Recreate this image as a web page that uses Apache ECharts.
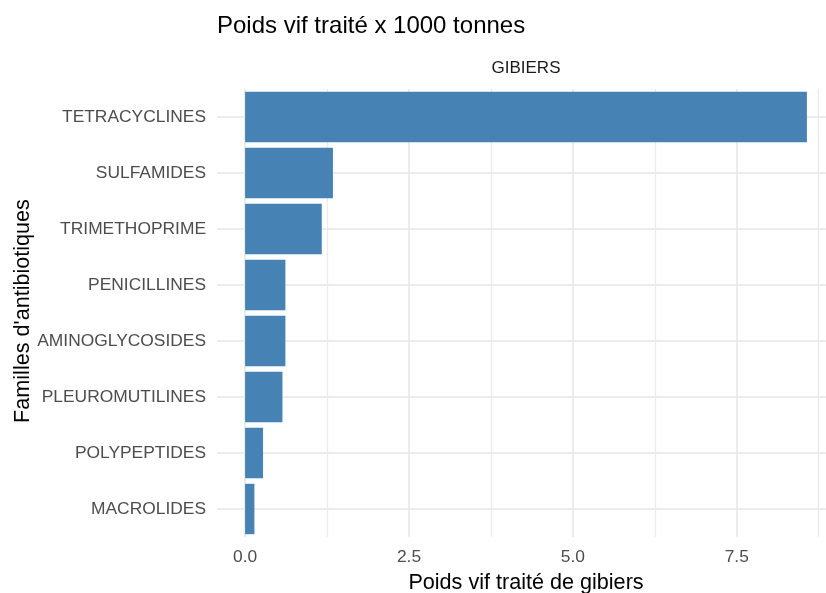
<!DOCTYPE html>
<html>
<head>
<meta charset="utf-8">
<script src="https://cdn.jsdelivr.net/npm/echarts@6/dist/echarts.min.js"></script>
<style>
  html, body { margin: 0; padding: 0; background: #fff; }
  #chart { width: 826px; height: 593px; }
</style>
</head>
<body>
<div id="chart"></div>
<script>
// familles d'antibiotiques, du haut vers le bas
var familles = ['TETRACYCLINES', 'SULFAMIDES', 'TRIMETHOPRIME', 'PENICILLINES',
                'AMINOGLYCOSIDES', 'PLEUROMUTILINES', 'POLYPEPTIDES', 'MACROLIDES'];
var poids = [8.57, 1.34, 1.17, 0.615, 0.615, 0.57, 0.274, 0.142];
var ticksMajeurs = [0, 2.5, 5, 7.5];
var ticksMineurs = [1.25, 3.75, 6.25, 8.75];
// centres des catégories sur l'axe de valeurs caché (pour les lignes horizontales)
var centresCat = [0.5, 1.5, 2.5, 3.5, 4.5, 5.5, 6.5, 7.5];

var police = "'Liberation Sans', Arial, sans-serif";
var grille = '#EBEBEB';

// expansion ggplot de 5% de chaque côté (le panneau dépasse un peu à droite)
var maxVal = Math.max.apply(null, poids);
var xMin = -0.05 * maxVal;
var xMax = maxVal * 1.05;

var chart = echarts.init(document.getElementById('chart'));
var option = {
    backgroundColor: '#fff',
    animation: false,
    textStyle: { fontFamily: police },
    title: {
        text: 'Poids vif traité x 1000 tonnes',
        left: 212,
        top: 9,
        textStyle: { fontSize: 24, fontWeight: 'normal', color: '#000', fontFamily: police }
    },
    graphic: [
        {
            type: 'text',
            x: 526, y: 68,
            style: { text: 'GIBIERS', font: '17px ' + police, fill: '#1a1a1a', align: 'center', verticalAlign: 'middle' }
        },
        {
            type: 'text',
            x: 23, y: 311,
            rotation: Math.PI / 2,
            style: { text: "Familles d'antibiotiques", font: '21.6px ' + police, fill: '#000', align: 'center', verticalAlign: 'middle' }
        }
    ],
    grid: { left: 217, right: -9, top: 89, bottom: 56, containLabel: false, outerBoundsMode: 'none' },
    xAxis: [
        {
            type: 'value',
            min: xMin,
            max: xMax,
            name: 'Poids vif traité de gibiers',
            nameLocation: 'middle',
            nameGap: 35,
            nameTextStyle: { fontSize: 21.6, color: '#000', fontFamily: police },
            axisLine: { show: false },
            axisTick: { show: false, customValues: ticksMajeurs },
            axisLabel: {
                customValues: ticksMajeurs,
                margin: 12,
                fontSize: 17.4,
                color: '#4d4d4d',
                formatter: function (v) { return v.toFixed(1); }
            },
            splitLine: { show: true, lineStyle: { color: grille, width: 2 } }
        },
        {
            type: 'value',
            min: xMin,
            max: xMax,
            position: 'bottom',
            axisLine: { show: false },
            axisTick: { show: false, customValues: ticksMineurs },
            axisLabel: { show: false },
            splitLine: { show: true, lineStyle: { color: grille, width: 1.3 } }
        }
    ],
    yAxis: [
        {
            type: 'category',
            inverse: true,
            data: familles,
            axisLine: { show: false },
            axisTick: { show: false },
            axisLabel: { margin: 11, fontSize: 17.4, color: '#4d4d4d' },
            splitLine: { show: false }
        },
        {
            type: 'value',
            min: 0,
            max: familles.length,
            position: 'left',
            axisLine: { show: false },
            axisTick: { show: false, customValues: centresCat },
            axisLabel: { show: false },
            splitLine: { show: true, lineStyle: { color: grille, width: 2 } }
        }
    ],
    series: [
        {
            type: 'bar',
            xAxisIndex: 0,
            yAxisIndex: 0,
            data: poids,
            barWidth: '90%',
            itemStyle: { color: '#4682B4' },
            z: 3
        }
    ]
};
chart.setOption(option);
</script>
</body>
</html>
